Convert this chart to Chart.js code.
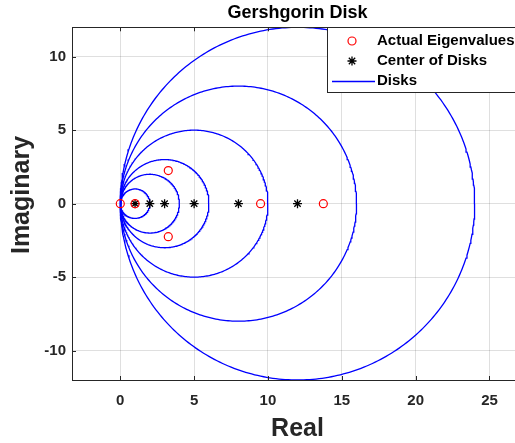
<!DOCTYPE html>
<html>
<head>
<meta charset="utf-8">
<script src="https://cdn.jsdelivr.net/npm/chart.js@4.4.0/dist/chart.umd.min.js"></script>
<style>
    html, body { margin: 0; padding: 0; background: #fff; overflow: hidden; }
    #wrap { width: 540px; height: 443px; }
</style>
</head>
<body>
<div id="wrap"><canvas id="myChart" width="540" height="443"></canvas></div>
<script>
// Gershgorin disks: centres and radii (all disks touch the origin)
const centers = [1, 2, 3, 5, 8, 12];
const radii = [1, 2, 3, 5, 8, 12];

// eigenvalues
const eigReal = [0, 1, 3.25, 3.25, 9.5, 13.75];
const eigImag = [0, 0, 2.25, -2.25, 0, 0];

const xTicks = [0, 5, 10, 15, 20, 25];
const yTicks = [-10, -5, 0, 5, 10];

const FONT = "'Liberation Sans', Arial, sans-serif";
const AXIS_COLOR = '#262626';
const DISK_COLOR = '#0000ff';
const EIG_COLOR = '#ff0000';

// outline of one disk, in data units
function diskOutline(c, r) {
    const pts = [];
    for (let i = 0; i <= 360; i++) {
        const t = i * Math.PI / 180;
        pts.push({ x: c + r * Math.cos(t), y: r * Math.sin(t) });
    }
    return pts;
}

const diskSets = centers.map((c, i) => ({
    label: 'Disks',
    data: diskOutline(c, radii[i]),
    showLine: true,
    borderColor: DISK_COLOR,
    borderWidth: 1.3,
    pointRadius: 0,
    tension: 0
}));

const eigSet = {
    label: 'Actual Eigenvalues',
    data: eigReal.map((x, i) => ({ x: x, y: eigImag[i] })),
    pointStyle: 'circle',
    pointRadius: 4,
    borderColor: EIG_COLOR,
    backgroundColor: 'rgba(0,0,0,0)',
    borderWidth: 1.2
};

const centerSet = {
    label: 'Center of Disks',
    data: centers.map(c => ({ x: c, y: 0 })),
    pointStyle: 'star',
    pointRadius: 4.5,
    borderColor: '#000000',
    backgroundColor: '#000000',
    borderWidth: 1.3
};

// box, inward ticks, y label and a MATLAB style legend
const framePlugin = {
    id: 'frame',
    afterDraw(chart) {
        const ctx = chart.ctx;
        const a = chart.chartArea;
        const xs = chart.scales.x, ys = chart.scales.y;
        ctx.save();
        ctx.strokeStyle = AXIS_COLOR;
        ctx.lineWidth = 1;
        ctx.strokeRect(Math.round(a.left) + 0.5, Math.round(a.top) + 0.5,
            Math.round(a.right - a.left), Math.round(a.bottom - a.top));
        ctx.beginPath();
        xTicks.forEach(v => {
            const px = Math.round(xs.getPixelForValue(v)) + 0.5;
            ctx.moveTo(px, a.bottom); ctx.lineTo(px, a.bottom - 4);
            ctx.moveTo(px, a.top); ctx.lineTo(px, a.top + 4);
        });
        yTicks.forEach(v => {
            const py = Math.round(ys.getPixelForValue(v)) + 0.5;
            ctx.moveTo(a.left, py); ctx.lineTo(a.left + 4, py);
            ctx.moveTo(a.right, py); ctx.lineTo(a.right - 4, py);
        });
        ctx.stroke();

        // y axis label
        ctx.save();
        ctx.translate(22, 195);
        ctx.rotate(-Math.PI / 2);
        ctx.font = 'bold 25px ' + FONT;
        ctx.fillStyle = AXIS_COLOR;
        ctx.textAlign = 'center';
        ctx.textBaseline = 'middle';
        ctx.fillText('Imaginary', 0, 0);
        ctx.restore();

        // legend
        const lx = 327.5, ly = Math.round(a.top) + 0.5, lw = 220, lh = 65;
        ctx.fillStyle = '#ffffff';
        ctx.fillRect(lx, ly, lw, lh);
        ctx.strokeStyle = AXIS_COLOR;
        ctx.lineWidth = 1;
        ctx.strokeRect(lx, ly, lw, lh);
        const rows = [
            { ds: eigSet, y: 41 },
            { ds: centerSet, y: 61 },
            { ds: diskSets[0], y: 81 }
        ];
        rows.forEach(row => {
            const ds = row.ds;
            ctx.strokeStyle = ds.borderColor;
            ctx.fillStyle = ds.backgroundColor || ds.borderColor;
            ctx.lineWidth = ds.borderWidth;
            if (ds.showLine) {
                ctx.beginPath();
                ctx.moveTo(332, row.y + 0.5); ctx.lineTo(375, row.y + 0.5);
                ctx.stroke();
            } else {
                Chart.helpers.drawPoint(ctx, {
                    pointStyle: ds.pointStyle, radius: ds.pointRadius,
                    borderWidth: ds.borderWidth
                }, 352, row.y);
            }
            ctx.font = 'bold 15px ' + FONT;
            ctx.textBaseline = 'middle';
            ctx.textAlign = 'left';
            ctx.fillStyle = '#000000';
            ctx.fillText(ds.label, 377, row.y);
        });
        ctx.restore();
    }
};

const ctx = document.getElementById('myChart').getContext('2d');
const myChart = new Chart(ctx, {
    type: 'scatter',
    data: {
        datasets: [eigSet, centerSet].concat(diskSets)
    },
    options: {
        responsive: false,
        animation: false,
        layout: { padding: { left: 0, right: 17, top: 0.5, bottom: 0 } },
        plugins: {
            legend: { display: false },
            tooltip: { enabled: false },
            title: {
                display: true,
                text: 'Gershgorin Disk',
                fullSize: false,
                color: '#000000',
                font: { family: FONT, size: 18, weight: 'bold', lineHeight: 1.1 },
                padding: { top: 3, bottom: 4 }
            }
        },
        scales: {
            x: {
                type: 'linear',
                min: -3.27,
                max: 27.27,
                afterFit: s => { s.height = 63; },
                afterBuildTicks: s => { s.ticks = xTicks.map(v => ({ value: v })); },
                grid: { color: 'rgba(38,38,38,0.15)', drawTicks: false },
                border: { display: false },
                ticks: {
                    color: AXIS_COLOR,
                    padding: 12,
                    maxRotation: 0,
                    font: { family: FONT, size: 15, weight: 'bold' }
                },
                title: {
                    display: true,
                    text: 'Real',
                    color: AXIS_COLOR,
                    padding: 0,
                    font: { family: FONT, size: 25, weight: 'bold', lineHeight: 1.1 }
                }
            },
            y: {
                type: 'linear',
                min: -12,
                max: 12,
                afterFit: s => { s.width = 72; },
                afterBuildTicks: s => { s.ticks = yTicks.map(v => ({ value: v })); },
                grid: { color: 'rgba(38,38,38,0.15)', drawTicks: false },
                border: { display: false },
                ticks: {
                    color: AXIS_COLOR,
                    padding: 6,
                    font: { family: FONT, size: 15, weight: 'bold' }
                }
            }
        }
    },
    plugins: [framePlugin]
});
</script>
</body>
</html>
